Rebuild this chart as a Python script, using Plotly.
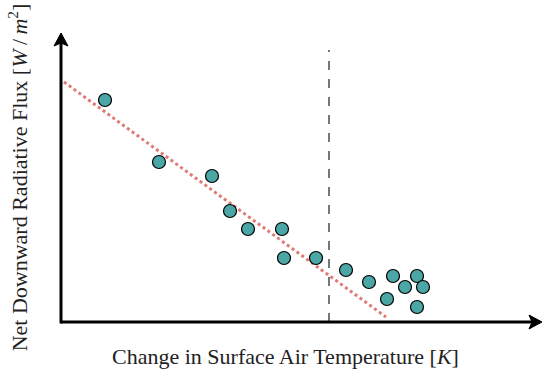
import plotly.graph_objects as go

# data (arbitrary units)
temp_change = [44, 98, 151, 169, 187, 221, 223, 255, 285, 308, 332, 344, 356, 362, 326, 356]
net_flux = [222, 160, 146, 111, 93, 93, 64, 64, 52, 40, 46, 35, 46, 35, 23, 15]
fit_x = [3, 325]
fit_y = [240, 5]
threshold_x = 268
x_max = 481
y_max = 289
x_title = "Change in Surface Air Temperature [<i>K</i>]"
y_title = "Net Downward Radiative Flux [<i>W</i>\u2009/\u2009<i>m</i><sup>2</sup>]"

fig = go.Figure()
fig.add_trace(go.Scatter(x=fit_x, y=fit_y, mode="lines",
                         line=dict(color="#e07a74", width=3, dash="dot"),
                         hoverinfo="skip"))
fig.add_trace(go.Scatter(x=[threshold_x, threshold_x], y=[0, 272], mode="lines",
                         line=dict(color="#555555", width=1.6, dash="dash"),
                         hoverinfo="skip"))
fig.add_trace(go.Scatter(x=temp_change, y=net_flux, mode="markers",
                         marker=dict(size=13, color="#4ba6a6",
                                     line=dict(color="black", width=1.2))))

# axis lines with arrowheads (paper coords so they are not clipped)
px_x = 1.0 / x_max   # paper units per pixel horizontally
px_y = 1.0 / y_max   # paper units per pixel vertically
ah_len, ah_half = 13, 7
fig.add_shape(type="line", xref="paper", yref="paper", x0=0, y0=0,
              x1=1 - (ah_len - 3) * px_x, y1=0, line=dict(color="black", width=3))
fig.add_shape(type="line", xref="paper", yref="paper", x0=0, y0=-1.5 * px_y,
              x1=0, y1=1 - (ah_len - 3) * px_y, line=dict(color="black", width=3))
fig.add_shape(type="path", xref="paper", yref="paper",
              path=(f"M 1,0 L {1 - ah_len * px_x},{ah_half * px_y} "
                    f"L {1 - (ah_len - 3) * px_x},0 L {1 - ah_len * px_x},{-ah_half * px_y} Z"),
              fillcolor="black", line=dict(color="black", width=1))
fig.add_shape(type="path", xref="paper", yref="paper",
              path=(f"M 0,1 L {ah_half * px_x},{1 - ah_len * px_y} "
                    f"L 0,{1 - (ah_len - 3) * px_y} L {-ah_half * px_x},{1 - ah_len * px_y} Z"),
              fillcolor="black", line=dict(color="black", width=1))

# x-axis title placed as an annotation (slightly left of the plot centre)
fig.add_annotation(text=x_title, xref="paper", yref="paper",
                   x=(285 - 61) * px_x, y=-34 * px_y, xanchor="center", yanchor="middle",
                   showarrow=False, font=dict(size=22))

fig.update_layout(
    width=542, height=370,
    margin=dict(l=61, r=0, t=33, b=48),
    paper_bgcolor="white", plot_bgcolor="white",
    showlegend=False,
    font=dict(family="Liberation Serif, serif", size=18.5, color="#222"),
    xaxis=dict(range=[0, x_max], showgrid=False, zeroline=False, showticklabels=False,
               ticks="", showline=False),
    yaxis=dict(range=[0, y_max], showgrid=False, zeroline=False, showticklabels=False,
               ticks="", showline=False,
               title=dict(text=y_title, standoff=26)),
)
fig.write_html("out.html")
